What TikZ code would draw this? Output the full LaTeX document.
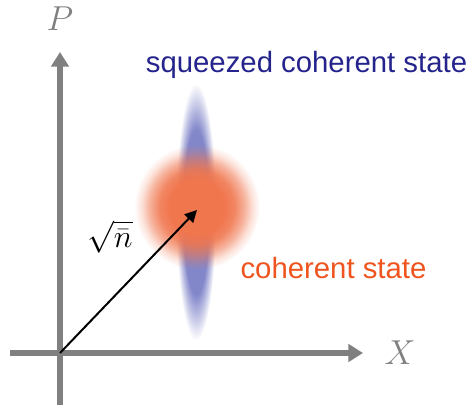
\RequirePackage{fix-cm}
\documentclass[tikz,border=0pt]{standalone}
\usepackage{fontspec}
\newfontfamily\labelfont{Liberation Sans}
\usetikzlibrary{arrows.meta,fadings}

\definecolor{axisgray}{RGB}{128,128,128}
\definecolor{squeezeblue}{RGB}{130,135,202}
\definecolor{squeezetext}{RGB}{36,36,140}
\definecolor{coherentorange}{RGB}{240,118,78}
\definecolor{coherenttext}{RGB}{240,84,30}

\pgfdeclareradialshading{softdiscshade}{\pgfpointorigin}{color(0bp)=(white); color(11bp)=(white); color(15bp)=(white!88!black); color(19bp)=(white!55!black); color(22bp)=(white!22!black); color(25bp)=(black); color(50bp)=(black)}
\pgfdeclarefading{softdisc}{\pgfuseshading{softdiscshade}}
\pgfdeclareradialshading{softrodshade}{\pgfpointorigin}{color(0bp)=(white); color(16bp)=(white); color(25bp)=(black); color(50bp)=(black)}
\pgfdeclarefading{softrod}{\pgfuseshading{softrodshade}}

\begin{document}
\begin{tikzpicture}[
  x=0.75pt, y=-0.75pt,
  axis/.style={draw=axisgray, line width=4.5pt, -{Triangle[length=11pt,width=13pt]}},
  axislabel/.style={text=axisgray, font=\fontsize{26}{30}\selectfont},
  statelabel/.style={font=\labelfont\fontsize{22}{26}\selectfont, anchor=base},
  amplitude/.style={draw=black, line width=1.5pt, -{Triangle[length=9pt,width=9pt]}}
]
\useasboundingbox (0,0) rectangle (473,409);

\coordinate (origin) at (60,353);
\coordinate (pbottom) at (60,405);
\coordinate (ptop) at (60,52);
\coordinate (xleft) at (10,353);
\coordinate (xright) at (363,353);
\coordinate (cstate) at (197,210);

\fill[squeezeblue, path fading=softrod] (196,212) ellipse [x radius=15pt, y radius=96pt];
\fill[coherentorange, path fading=softdisc] (197,207) circle [radius=47pt];

\draw[axis] (pbottom) -- (ptop);
\draw[axis] (xleft) -- (xright);
\draw[amplitude] (origin) -- (cstate);

\node[axislabel] (plabel) at (60,19) {$P$};
\node[axislabel] (xlabel) at (400,353) {$X$};
\node[font=\fontsize{24}{28}\selectfont] (nlabel) at (110,237) {$\sqrt{\bar{n}}$};
\node[statelabel, text=squeezetext] (squeezed) at (306.5,73) {squeezed coherent state};
\node[statelabel, text=coherenttext] (coherent) at (333.5,278) {coherent state};
\end{tikzpicture}
\end{document}
